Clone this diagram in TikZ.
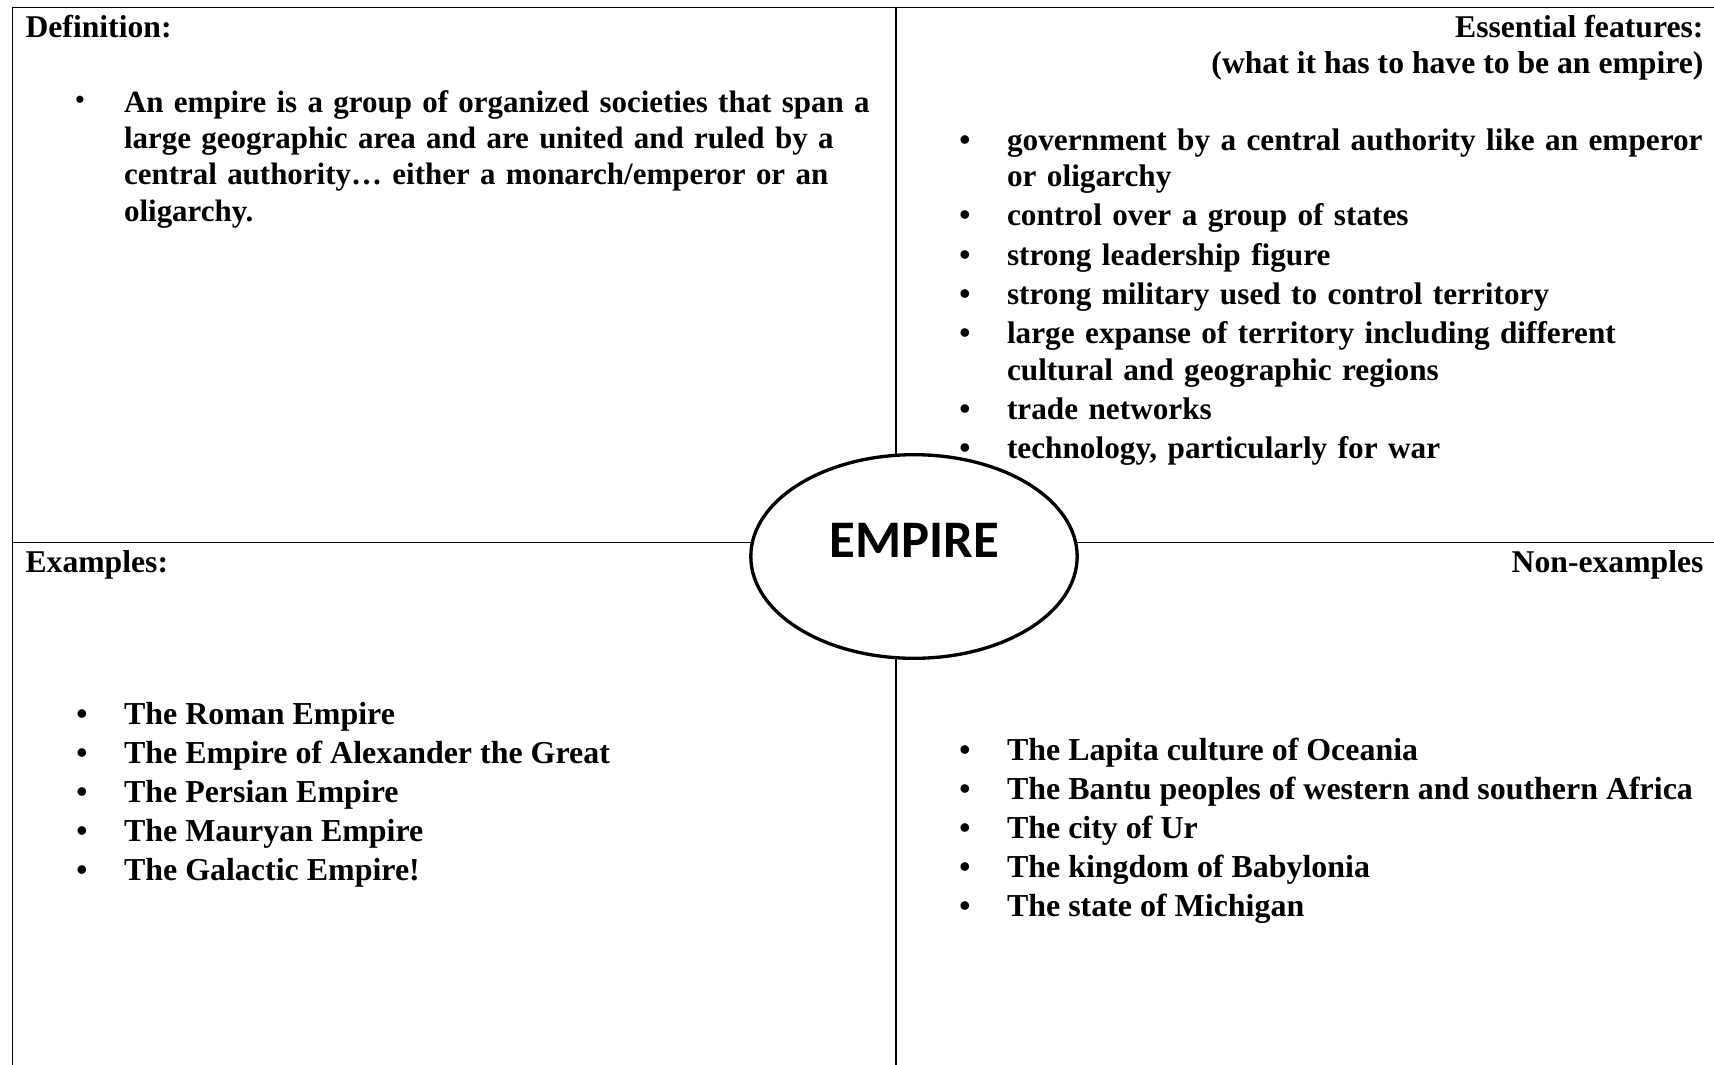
\documentclass[tikz,border=0pt]{standalone}
\usepackage{fontspec}
\setmainfont{Liberation Serif}
\newfontfamily\calibri{Carlito}
\usetikzlibrary{shapes.geometric}

\begin{document}
\begin{tikzpicture}[x=0.36pt, y=-0.36pt,
  plain/.style={inner sep=0pt, anchor=base west, font=\fontsize{11.4}{13.1}\selectfont\bfseries},
  entry/.style={plain, text width=280pt, align=left},
  blt/.style={inner sep=0pt, anchor=base, font=\fontsize{11.4}{13.1}\selectfont\bfseries},
  gridline/.style={line width=0.7pt}]
\useasboundingbox (0,0) rectangle (1714,1065);
% the four boxes
\draw[gridline] (12.5,1065) -- (12.5,7.5) -- (1714,7.5);
\draw[gridline] (896,7.5) -- (896,1065);
\draw[gridline] (12.5,542.5) -- (1714,542.5);
\node[draw, ellipse, fill=white, line width=1.2pt, minimum width=117.5pt, minimum height=73.3pt] (emp) at (914,556.5) {};
\node[anchor=base, inner sep=0pt, font=\fontsize{19}{23}\selectfont\calibri\bfseries] (title) at (914.5,557) {EMPIRE};

% headings
\node[plain] (def) at (25,37.5) {Definition:};
\node[plain, anchor=base east] (ess) at (1704,37.5) {Essential features:};
\node[plain, anchor=base east] (what) at (1704,73) {(what it has to have to be an empire)};
\node[plain] (exs) at (25,572) {Examples:};
\node[plain, anchor=base east] (nonex) at (1704,572) {Non-examples};

% definition
\node[blt, font=\fontsize{9.5}{11}\selectfont\bfseries] (db) at (80,108.5) {\textbullet};
\node[entry, font=\fontsize{11.15}{13.1}\selectfont\bfseries] (dt) at (123.5,112) {An empire is a group of organized societies that span a\\
  large geographic area and are united and ruled by a\\
  central authority… either a monarch/emperor or an\\
  oligarchy.};

% essential features
\foreach \y/\itm [count=\i] in {150/{government by a central authority like an emperor\\ or oligarchy},
  225.8/{control over a group of states}, 265.1/{strong leadership figure},
  304.4/{strong military used to control territory},
  343.7/{large expanse of territory including different\\ cultural and geographic regions},
  419.6/{trade networks}, 458.9/{technology, particularly for war}}{
  \node[blt] (fb\i) at (965,\y) {\textbullet};
  \node[entry, font=\fontsize{11.25}{13.2}\selectfont\bfseries] (f\i) at (1006.5,\y) {\itm};
}

% examples
\foreach \itm [count=\i] in {The Roman Empire, The Empire of Alexander the Great,
  The Persian Empire, The Mauryan Empire, The Galactic Empire!}{
  \node[blt] (eb\i) at (82,{724+39*(\i-1)}) {\textbullet};
  \node[plain, font=\fontsize{11.5}{13.2}\selectfont\bfseries] (e\i) at (123.5,{724+39*(\i-1)}) {\itm};
}

% non-examples
\foreach \itm [count=\i] in {The Lapita culture of Oceania,
  The Bantu peoples of western and southern Africa, The city of Ur,
  The kingdom of Babylonia, The state of Michigan}{
  \node[blt] (nb\i) at (965,{760.5+39*(\i-1)}) {\textbullet};
  \node[plain, font=\fontsize{11.5}{13.2}\selectfont\bfseries] (n\i) at (1006.5,{760.5+39*(\i-1)}) {\itm};
}
\end{tikzpicture}
\end{document}
